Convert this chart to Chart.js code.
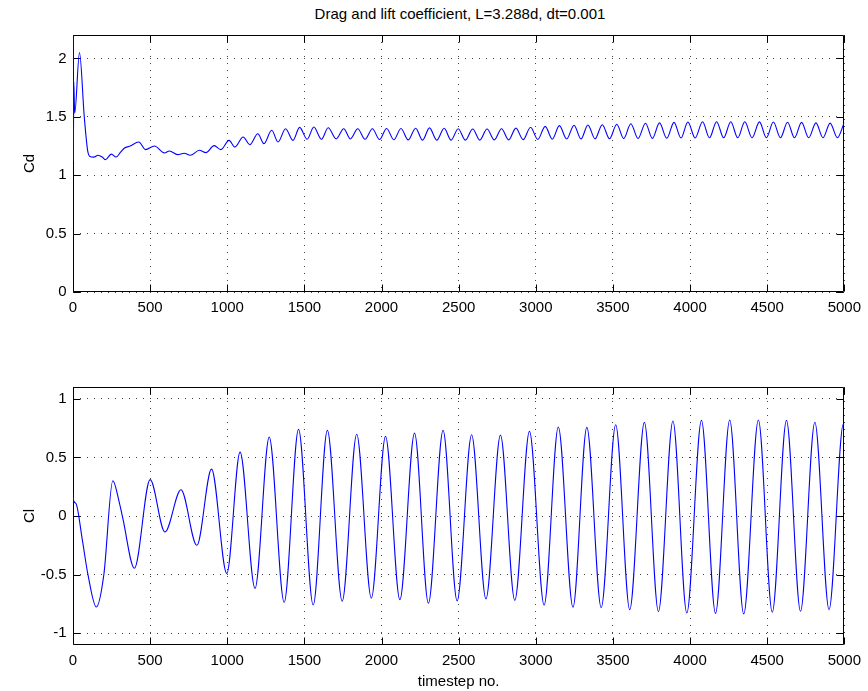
<!DOCTYPE html>
<html>
<head>
<meta charset="utf-8">
<script src="https://cdn.jsdelivr.net/npm/chart.js@4/dist/chart.umd.min.js"></script>
<style>
  html, body { margin: 0; padding: 0; background: #fff; }
  #wrap { position: relative; width: 868px; height: 691px; background: #fff; overflow: hidden; }
  #title { position: absolute; left: 260px; width: 400px; top: 5px; text-align: center;
           font: 15px "Liberation Sans", Arial, Helvetica, sans-serif; color: #000; line-height: 18px; }
  canvas { position: absolute; left: 0; }
</style>
</head>
<body>
<div id="wrap">
  <div id="title">Drag and lift coefficient, L=3.288d, dt=0.001</div>
  <canvas id="cdChart" width="868" height="345" style="top:0"></canvas>
  <canvas id="clChart" width="868" height="346" style="top:345px"></canvas>
</div>
<script>
// Axis ticks
const stepTicks = [0, 500, 1000, 1500, 2000, 2500, 3000, 3500, 4000, 4500, 5000];
const cdTicks = [0, 0.5, 1, 1.5, 2];
const clTicks = [-1, -0.5, 0, 0.5, 1];

// Drag coefficient: timestep and value at each turning point of the curve
const cdSteps = [
  0, 2, 5, 11, 42, 73, 95, 110, 135, 162, 190, 211, 248, 280, 310, 334, 366, 427, 470, 528,
  592, 625, 678, 721, 760, 819, 862, 915, 958, 1012, 1049, 1103, 1146, 1198, 1238, 1288, 1329, 1378, 1426, 1469,
  1518, 1561, 1611, 1654, 1706, 1755, 1798, 1846, 1893, 1941, 1987, 2033, 2080, 2126, 2173, 2221, 2266, 2311,
  2358, 2406, 2451, 2497, 2544, 2591, 2637, 2684, 2731, 2778, 2824, 2871, 2918, 2966, 3013, 3061, 3107, 3153,
  3200, 3248, 3293, 3338, 3384, 3431, 3478, 3525, 3570, 3616, 3663, 3711, 3756, 3802, 3849, 3896, 3941, 3986,
  4033, 4081, 4126, 4172, 4218, 4264, 4309, 4355, 4402, 4450, 4495, 4540, 4586, 4632, 4677, 4723, 4769, 4816,
  4862, 4908, 4955, 5000
];
const cdValues = [
  2.6, 1.12, 1.80, 1.53, 2.05, 1.50, 1.21, 1.16, 1.155, 1.17, 1.155, 1.133, 1.18, 1.156, 1.20, 1.233, 1.247, 1.284, 1.219, 1.25,
  1.19, 1.207, 1.176, 1.188, 1.17, 1.213, 1.193, 1.253, 1.219, 1.298, 1.241, 1.327, 1.261, 1.355, 1.27, 1.384, 1.284, 1.398, 1.298, 1.409,
  1.307, 1.412, 1.307, 1.406, 1.31, 1.398, 1.31, 1.398, 1.308, 1.398, 1.305, 1.40, 1.303, 1.40, 1.302, 1.402, 1.30, 1.405,
  1.30, 1.402, 1.30, 1.398, 1.30, 1.395, 1.30, 1.395, 1.302, 1.398, 1.302, 1.403, 1.304, 1.41, 1.306, 1.418, 1.308, 1.424,
  1.31, 1.428, 1.31, 1.43, 1.311, 1.432, 1.312, 1.436, 1.313, 1.44, 1.314, 1.444, 1.315, 1.448, 1.316, 1.452, 1.318, 1.455,
  1.318, 1.457, 1.32, 1.458, 1.32, 1.458, 1.32, 1.457, 1.32, 1.456, 1.32, 1.455, 1.32, 1.453, 1.32, 1.452, 1.32, 1.448,
  1.32, 1.446, 1.32, 1.452
];

// Lift coefficient: timestep and value at each turning point of the curve
const clSteps = [
  0, 4, 20, 60, 97, 151, 200, 258, 301, 323, 398, 500, 596, 700, 803,
  898, 997, 1083, 1180, 1272, 1369, 1462, 1557, 1649, 1745, 1839, 1934, 2026, 2119, 2214, 2304, 2399, 2490, 2584,
  2677, 2771, 2864, 2959, 3054, 3146, 3241, 3331, 3424, 3518, 3609, 3704, 3795, 3889, 3979, 4074, 4165, 4257, 4348, 4443,
  4533, 4625, 4716, 4809, 4901, 4994, 5000
];
const clValues = [
  0.19, 0.13, 0.105, -0.2, -0.5, -0.776, -0.5, 0.30, 0.11, -0.02, -0.446, 0.31, -0.136, 0.224, -0.25,
  0.40, -0.49, 0.545, -0.617, 0.673, -0.736, 0.739, -0.759, 0.730, -0.727, 0.697, -0.70, 0.679, -0.713, 0.707, -0.744, 0.730, -0.724, 0.693,
  -0.707, 0.690, -0.719, 0.722, -0.759, 0.759, -0.778, 0.756, -0.781, 0.778, -0.798, 0.798, -0.815, 0.81, -0.827, 0.815, -0.830, 0.818, -0.835, 0.818,
  -0.821, 0.815, -0.812, 0.80, -0.798, 0.785, 0.78
];

const FONT = { family: '"Liberation Sans", Arial, Helvetica, sans-serif', size: 15 };

// Box around the plot area with short inward tick marks on all four sides,
// drawn underneath the data line
const framePlugin = {
  id: 'frame',
  beforeDatasetsDraw(chart) {
    const { ctx, chartArea: a, scales: { x, y } } = chart;
    const L = Math.round(a.left) + 0.5, R = Math.round(a.right) - 0.5;
    const T = Math.round(a.top) + 0.5, B = Math.round(a.bottom) - 0.5;
    const len = 7;
    ctx.save();
    ctx.strokeStyle = '#000';
    ctx.lineWidth = 1;
    ctx.setLineDash([]);
    ctx.beginPath();
    ctx.rect(L, T, R - L, B - T);
    x.ticks.forEach(t => {
      const px = Math.round(x.getPixelForValue(t.value)) + 0.5;
      ctx.moveTo(px, B); ctx.lineTo(px, B - len);
      ctx.moveTo(px, T); ctx.lineTo(px, T + len);
    });
    y.ticks.forEach(t => {
      const py = Math.round(y.getPixelForValue(t.value)) + 0.5;
      ctx.moveTo(L, py); ctx.lineTo(L + len, py);
      ctx.moveTo(R, py); ctx.lineTo(R - len, py);
    });
    ctx.stroke();
    ctx.restore();
  }
};

function makeChart(canvasId, steps, values, yTicks, yMin, yMax, yTitle, xTitle, pad, xHeight) {
  const points = steps.map((s, i) => ({ x: s, y: values[i] }));
  return new Chart(document.getElementById(canvasId), {
    type: 'line',
    data: {
      datasets: [{
        data: points,
        borderColor: '#0000ff',
        borderWidth: 1.1,
        pointRadius: 0,
        fill: false,
        cubicInterpolationMode: 'monotone'
      }]
    },
    options: {
      responsive: false,
      animation: false,
      events: [],
      layout: { padding: pad },
      plugins: { legend: { display: false }, tooltip: { enabled: false }, title: { display: false } },
      scales: {
        x: {
          type: 'linear',
          min: 0,
          max: 5000,
          afterBuildTicks: s => { s.ticks = stepTicks.map(v => ({ value: v })); },
          afterFit: s => { s.height = xHeight; },
          ticks: { color: '#000', font: FONT, padding: 7, maxRotation: 0, autoSkip: false,
                   callback: v => String(v) },
          grid: { color: '#444', lineWidth: 1, drawTicks: false },
          border: { display: false, dash: [1, 6] },
          title: { display: !!xTitle, text: xTitle || '', color: '#000', font: FONT,
                   padding: { top: 0, bottom: 0 } }
        },
        y: {
          type: 'linear',
          min: yMin,
          max: yMax,
          afterBuildTicks: s => { s.ticks = yTicks.map(v => ({ value: v })); },
          afterFit: s => { s.width = 73; },
          ticks: { color: '#000', font: FONT, padding: 6.5, callback: v => String(v) },
          grid: { color: '#444', lineWidth: 1, drawTicks: false },
          border: { display: false, dash: [1, 6] },
          title: { display: true, text: yTitle, color: '#000', font: FONT,
                   padding: { top: 21, bottom: 0 } }
        }
      }
    },
    plugins: [framePlugin]
  });
}

makeChart('cdChart', cdSteps, cdValues, cdTicks, 0, 2.2, 'Cd', null,
          { top: 35, right: 21, left: 0, bottom: 0 }, 53);
makeChart('clChart', clSteps, clValues, clTicks, -1.1, 1.1, 'Cl', 'timestep no.',
          { top: 42, right: 21, left: 0, bottom: 0 }, 46);
</script>
</body>
</html>
